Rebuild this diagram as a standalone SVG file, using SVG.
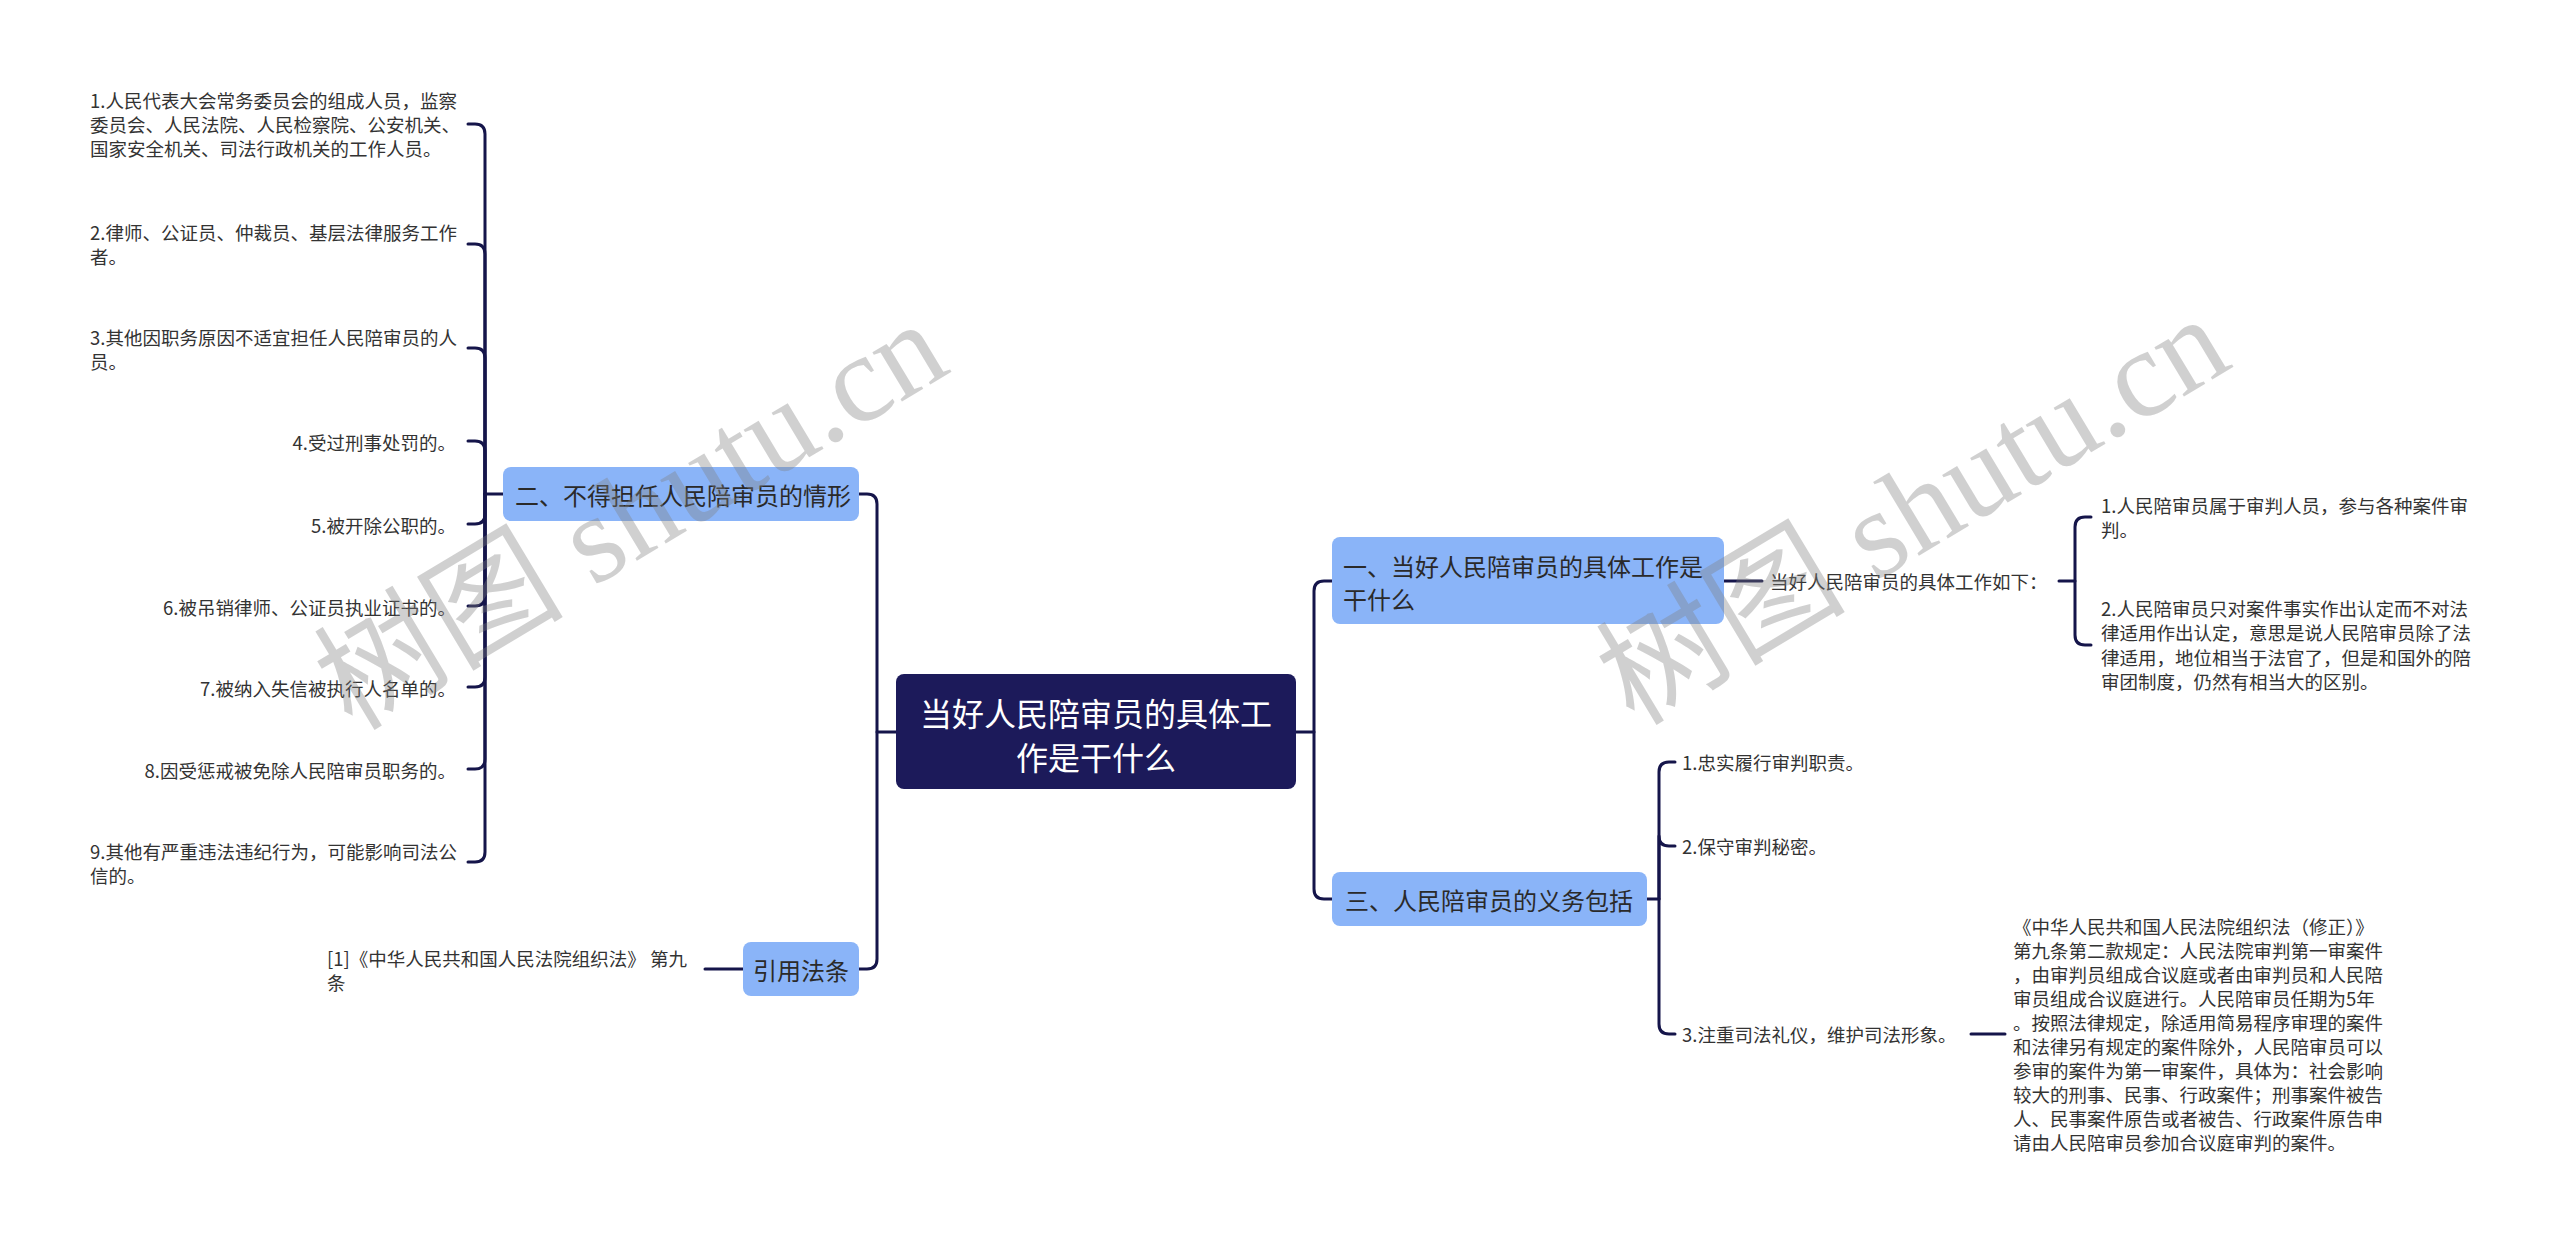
<svg xmlns="http://www.w3.org/2000/svg" width="2560" height="1243" viewBox="0 0 2560 1243">
<style>
.bg{fill:#ffffff}
.ln{fill:none;stroke:#15154a;stroke-width:3;stroke-linecap:round;stroke-linejoin:round}
.root{fill:#1c1a5a}
.main{fill:#8ab4f8}
.t{font-family:"Noto Sans CJK SC","Noto Sans",sans-serif;dominant-baseline:central}
.rt{font-size:32px;fill:#ffffff}
.mt{font-size:24px;fill:#2a2a2a}
.lt{font-size:18.5px;fill:#333333}
.wm{font-family:"Liberation Serif","Noto Sans CJK SC",serif;font-size:125px;fill:#808080;opacity:0.36}
</style>
<rect class="bg" x="0" y="0" width="2560" height="1243"/>
<g id="connectors">
<path class="ln" d="M503,494 H485"/>
<path class="ln" d="M485,494 V134 Q485,124 475,124 H468"/>
<path class="ln" d="M485,494 V254 Q485,244 475,244 H468"/>
<path class="ln" d="M485,494 V358 Q485,348 475,348 H468"/>
<path class="ln" d="M485,494 V451 Q485,441 475,441 H468"/>
<path class="ln" d="M485,494 V514 Q485,524 475,524 H468"/>
<path class="ln" d="M485,494 V596 Q485,606 475,606 H468"/>
<path class="ln" d="M485,494 V677 Q485,687 475,687 H468"/>
<path class="ln" d="M485,494 V759 Q485,769 475,769 H468"/>
<path class="ln" d="M485,494 V852 Q485,862 475,862 H468"/>
<path class="ln" d="M896,732 H877 V504 Q877,494 867,494 H859"/>
<path class="ln" d="M877,732 V959 Q877,969 867,969 H859"/>
<path class="ln" d="M743,969 H705"/>
<path class="ln" d="M1296,732 H1314 V591 Q1314,581 1324,581 H1332"/>
<path class="ln" d="M1314,732 V889 Q1314,899 1324,899 H1332"/>
<path class="ln" d="M1724,581 H1762"/>
<path class="ln" d="M2059,581 H2075 V527 Q2075,517 2085,517 H2091"/>
<path class="ln" d="M2075,581 V635 Q2075,645 2085,645 H2091"/>
<path class="ln" d="M1647,899 H1659 V772 Q1659,762 1669,762 H1675"/>
<path class="ln" d="M1659,899 V836 Q1659,846 1669,846 H1675"/>
<path class="ln" d="M1659,899 V1024 Q1659,1034 1669,1034 H1675"/>
<path class="ln" d="M1971,1034 H2005"/>
</g>
<g id="root">
<rect class="root" x="896" y="674" width="400" height="115" rx="8"/>
<text class="t rt" x="1096" y="712" text-anchor="middle">当好人民陪审员的具体工</text>
<text class="t rt" x="1096" y="756" text-anchor="middle">作是干什么</text>
</g>
<g id="node-er">
<rect class="main" x="503" y="467" width="356" height="54" rx="8"/>
<text class="t mt" x="515" y="494">二、不得担任人民陪审员的情形</text>
</g>
<g id="node-yinyong">
<rect class="main" x="743" y="942" width="116" height="54" rx="8"/>
<text class="t mt" x="801" y="969" text-anchor="middle">引用法条</text>
</g>
<g id="node-yi">
<rect class="main" x="1332" y="537" width="392" height="87" rx="8"/>
<text class="t mt" x="1343" y="565">一、当好人民陪审员的具体工作是</text>
<text class="t mt" x="1343" y="598">干什么</text>
</g>
<g id="node-san">
<rect class="main" x="1332" y="872" width="315" height="54" rx="8"/>
<text class="t mt" x="1345" y="899">三、人民陪审员的义务包括</text>
</g>
<g id="leaf-er-1">
<text class="t lt" x="90" y="100">1.人民代表大会常务委员会的组成人员，监察</text>
<text class="t lt" x="90" y="124">委员会、人民法院、人民检察院、公安机关、</text>
<text class="t lt" x="90" y="148">国家安全机关、司法行政机关的工作人员。</text>
</g>
<g id="leaf-er-2">
<text class="t lt" x="90" y="232">2.律师、公证员、仲裁员、基层法律服务工作</text>
<text class="t lt" x="90" y="256">者。</text>
</g>
<g id="leaf-er-3">
<text class="t lt" x="90" y="337">3.其他因职务原因不适宜担任人民陪审员的人</text>
<text class="t lt" x="90" y="361">员。</text>
</g>
<g id="leaf-er-4"><text class="t lt" x="456" y="442" text-anchor="end">4.受过刑事处罚的。</text></g>
<g id="leaf-er-5"><text class="t lt" x="456" y="525" text-anchor="end">5.被开除公职的。</text></g>
<g id="leaf-er-6"><text class="t lt" x="456" y="607" text-anchor="end">6.被吊销律师、公证员执业证书的。</text></g>
<g id="leaf-er-7"><text class="t lt" x="456" y="688" text-anchor="end">7.被纳入失信被执行人名单的。</text></g>
<g id="leaf-er-8"><text class="t lt" x="456" y="770" text-anchor="end">8.因受惩戒被免除人民陪审员职务的。</text></g>
<g id="leaf-er-9">
<text class="t lt" x="90" y="851">9.其他有严重违法违纪行为，可能影响司法公</text>
<text class="t lt" x="90" y="875">信的。</text>
</g>
<g id="leaf-yinyong">
<text class="t lt" x="327" y="958">[1]《中华人民共和国人民法院组织法》 第九</text>
<text class="t lt" x="327" y="982">条</text>
</g>
<g id="leaf-yi-0"><text class="t lt" x="1770" y="581">当好人民陪审员的具体工作如下：</text></g>
<g id="leaf-yi-1">
<text class="t lt" x="2101" y="505">1.人民陪审员属于审判人员，参与各种案件审</text>
<text class="t lt" x="2101" y="529">判。</text>
</g>
<g id="leaf-yi-2">
<text class="t lt" x="2101" y="608">2.人民陪审员只对案件事实作出认定而不对法</text>
<text class="t lt" x="2101" y="632">律适用作出认定，意思是说人民陪审员除了法</text>
<text class="t lt" x="2101" y="657">律适用，地位相当于法官了，但是和国外的陪</text>
<text class="t lt" x="2101" y="681">审团制度，仍然有相当大的区别。</text>
</g>
<g id="leaf-san-1"><text class="t lt" x="1682" y="762">1.忠实履行审判职责。</text></g>
<g id="leaf-san-2"><text class="t lt" x="1682" y="846">2.保守审判秘密。</text></g>
<g id="leaf-san-3"><text class="t lt" x="1682" y="1034">3.注重司法礼仪，维护司法形象。</text></g>
<g id="leaf-san-3-1">
<text class="t lt" x="2013" y="926">《中华人民共和国人民法院组织法（修正）》</text>
<text class="t lt" x="2013" y="950">第九条第二款规定：人民法院审判第一审案件</text>
<text class="t lt" x="2013" y="974">，由审判员组成合议庭或者由审判员和人民陪</text>
<text class="t lt" x="2013" y="998">审员组成合议庭进行。人民陪审员任期为5年</text>
<text class="t lt" x="2013" y="1022">。按照法律规定，除适用简易程序审理的案件</text>
<text class="t lt" x="2013" y="1046">和法律另有规定的案件除外，人民陪审员可以</text>
<text class="t lt" x="2013" y="1070">参审的案件为第一审案件，具体为：社会影响</text>
<text class="t lt" x="2013" y="1094">较大的刑事、民事、行政案件；刑事案件被告</text>
<text class="t lt" x="2013" y="1118">人、民事案件原告或者被告、行政案件原告申</text>
<text class="t lt" x="2013" y="1142">请由人民陪审员参加合议庭审判的案件。</text>
</g>
<g id="watermarks">
<text class="wm" transform="translate(352,732) rotate(-31)">树图 shutu.cn</text>
<text class="wm" transform="translate(1634,727) rotate(-31)">树图 shutu.cn</text>
</g>
</svg>
